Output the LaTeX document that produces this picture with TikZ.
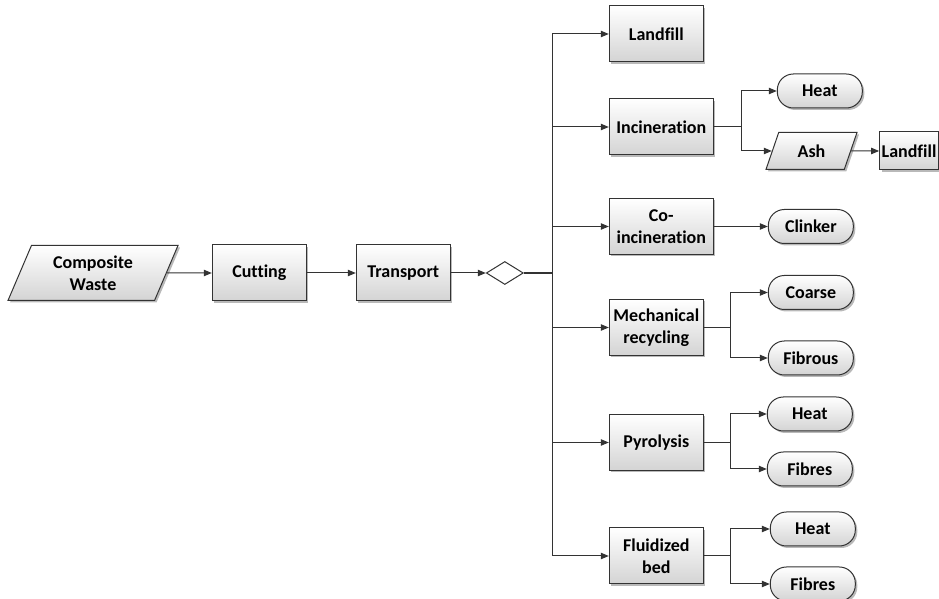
\documentclass[tikz,border=0pt]{standalone}
\usepackage{fontspec}
\setmainfont[Ligatures=NoCommon]{Carlito}
\usetikzlibrary{positioning,shapes.geometric,shadows,arrows.meta}

\begin{document}
\begin{tikzpicture}[font=\fontsize{9}{11}\selectfont\bfseries,
    every node/.style={draw=black!80,line width=0.5pt,align=center},
    boxshade/.style={top color=white,bottom color=black!17,drop shadow={shadow xshift=1pt,shadow yshift=-1pt,fill=black!50,opacity=0.55}},
    procbox/.style={rectangle,boxshade,minimum width=47pt,minimum height=28pt,inner xsep=1pt},
    databox/.style={trapezium,trapezium left angle=64,trapezium right angle=116,trapezium stretches body,boxshade,inner xsep=1pt},
    endbox/.style={rectangle,rounded corners=8pt,boxshade,minimum width=42.5pt,minimum height=17pt},
    link/.style={draw=black!80,line width=0.5pt},
    line/.style={link,-{Triangle[length=4pt,width=3.2pt]}}]
    \useasboundingbox (-46.5pt,-163pt) rectangle (423pt,136.5pt);

    % main chain
    \node[databox,minimum width=85pt,minimum height=27.5pt] (waste) {Composite\\Waste};
    \node[procbox] (cutting) [right=22.5pt of waste] {Cutting};
    \node[procbox] (transport) [right=24.5pt of cutting] {Transport};
    \node[diamond,fill=white,inner sep=0pt,minimum width=18.5pt,minimum height=11.5pt] (decision) [right=17.5pt of transport] {};
    \coordinate[right=14.5pt of decision] (trunk);

    % treatment routes
    \node[procbox] (landfill) [right=28pt of trunk,yshift=119.5pt] {Landfill};
    \node[procbox,minimum width=52pt] (incin) [right=28pt of trunk,yshift=73pt] {Incineration};
    \node[procbox,minimum width=52pt] (coincin) [right=28pt of trunk,yshift=23.25pt] {Co-\\incineration};
    \node[procbox] (mech) [right=28pt of trunk,yshift=-27.25pt] {Mechanical\\recycling};
    \node[procbox] (pyro) [right=28pt of trunk,yshift=-84.75pt] {Pyrolysis};
    \node[procbox] (fluid) [right=28pt of trunk,yshift=-141.5pt] {Fluidized\\bed};

    % products
    \node[endbox] (incheat) [right=31.5pt of incin,yshift=18pt] {Heat};
    \node[databox,minimum width=45.5pt,minimum height=18.5pt] (ash) [right=29pt of incin,yshift=-12pt] {Ash};
    \node[rectangle,boxshade,minimum height=19pt,inner xsep=1pt] (ashland) [right=14pt of ash] {Landfill};
    \node[endbox] (clinker) [right=27pt of coincin] {Clinker};
    \node[endbox] (coarse) [right=32pt of mech,yshift=17.5pt] {Coarse};
    \node[endbox] (fibrous) [right=32pt of mech,yshift=-15.25pt] {Fibrous};
    \node[endbox] (pyroheat) [right=31.5pt of pyro,yshift=14.25pt] {Heat};
    \node[endbox] (pyrofib) [right=31.5pt of pyro,yshift=-13.25pt] {Fibres};
    \node[endbox] (fluidheat) [right=33pt of fluid,yshift=13.5pt] {Heat};
    \node[endbox] (fluidfib) [right=33pt of fluid,yshift=-14pt] {Fibres};

    \draw[line] (waste) -- (cutting);
    \draw[line] (cutting) -- (transport);
    \draw[line] (transport) -- (decision);
    \draw[link,line width=1pt] (decision) -- (trunk);
    \foreach \n in {landfill,incin,coincin,mech,pyro,fluid}
        \draw[line] (trunk) |- (\n);

    \coordinate[right=14pt of incin] (incsplit);
    \draw[link] (incin) -- (incsplit);
    \draw[line] (incsplit) |- (incheat);
    \draw[line] (incsplit) |- (ash);
    \draw[line] (ash) -- (ashland);
    \draw[line] (coincin) -- (clinker);
    \foreach \src/\up/\down in {mech/coarse/fibrous,pyro/pyroheat/pyrofib,fluid/fluidheat/fluidfib}{
        \coordinate[right=13.5pt of \src] (\src split);
        \draw[link] (\src) -- (\src split);
        \draw[line] (\src split) |- (\up);
        \draw[line] (\src split) |- (\down);
    }
\end{tikzpicture}
\end{document}
